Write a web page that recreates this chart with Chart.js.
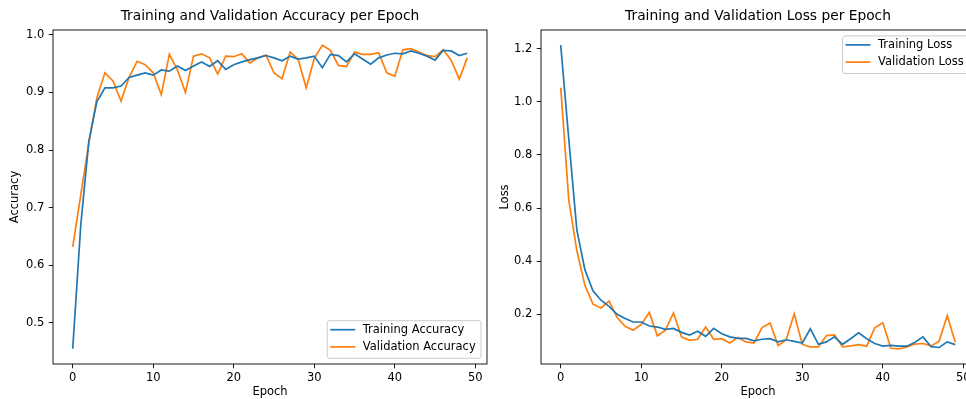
<!DOCTYPE html>
<html>
<head>
<meta charset="utf-8">
<title>Training and Validation per Epoch</title>
<script src="https://cdn.jsdelivr.net/npm/chart.js@4/dist/chart.umd.min.js"></script>
<style>
    html, body { margin: 0; padding: 0; background: #fff; width: 966px; height: 399px; overflow: hidden; }
    canvas { position: absolute; top: 0; }
    #acc-chart { left: 0; }
    #loss-chart { left: 490px; }
</style>
</head>
<body>
<canvas id="acc-chart" width="500" height="399" style="width:500px;height:399px"></canvas>
<canvas id="loss-chart" width="500" height="399" style="width:500px;height:399px"></canvas>
<script>
// Data
const epochs = [0, 1, 2, 3, 4, 5, 6, 7, 8, 9, 10, 11, 12, 13, 14, 15, 16, 17, 18, 19,
    20, 21, 22, 23, 24, 25, 26, 27, 28, 29, 30, 31, 32, 33, 34, 35, 36, 37, 38, 39,
    40, 41, 42, 43, 44, 45, 46, 47, 48, 49];

const trainAcc = [0.455, 0.670, 0.815, 0.884, 0.908, 0.908, 0.911, 0.926, 0.930, 0.934,
    0.930, 0.939, 0.937, 0.946, 0.938, 0.946, 0.953, 0.945, 0.955, 0.940,
    0.948, 0.953, 0.957, 0.960, 0.964, 0.960, 0.955, 0.963, 0.958, 0.960,
    0.963, 0.943, 0.966, 0.964, 0.953, 0.967, 0.958, 0.949, 0.960, 0.965,
    0.968, 0.967, 0.972, 0.968, 0.963, 0.956, 0.973, 0.972, 0.964, 0.968];

const valAcc = [0.632, 0.722, 0.812, 0.891, 0.934, 0.920, 0.885, 0.926, 0.954, 0.948,
    0.934, 0.896, 0.966, 0.939, 0.900, 0.963, 0.967, 0.960, 0.932, 0.963,
    0.962, 0.967, 0.951, 0.960, 0.965, 0.934, 0.924, 0.970, 0.957, 0.908,
    0.959, 0.982, 0.973, 0.947, 0.945, 0.970, 0.966, 0.966, 0.969, 0.934,
    0.928, 0.974, 0.976, 0.970, 0.964, 0.962, 0.974, 0.956, 0.923, 0.960];

const trainLoss = [1.213, 0.860, 0.518, 0.368, 0.288, 0.253, 0.230, 0.200, 0.184, 0.171,
    0.171, 0.156, 0.152, 0.143, 0.147, 0.132, 0.122, 0.136, 0.117, 0.147,
    0.127, 0.115, 0.109, 0.109, 0.100, 0.106, 0.108, 0.096, 0.104, 0.098,
    0.092, 0.145, 0.087, 0.096, 0.115, 0.087, 0.108, 0.130, 0.108, 0.090,
    0.080, 0.083, 0.080, 0.080, 0.095, 0.115, 0.078, 0.075, 0.096, 0.086];

const valLoss = [1.053, 0.630, 0.440, 0.309, 0.238, 0.224, 0.250, 0.188, 0.155, 0.140,
    0.162, 0.207, 0.119, 0.140, 0.205, 0.115, 0.102, 0.106, 0.152, 0.106,
    0.108, 0.092, 0.113, 0.096, 0.092, 0.150, 0.167, 0.082, 0.104, 0.202,
    0.087, 0.077, 0.077, 0.120, 0.122, 0.077, 0.081, 0.086, 0.080, 0.149,
    0.168, 0.072, 0.070, 0.077, 0.088, 0.090, 0.081, 0.099, 0.195, 0.095];

const xTicks = [0, 10, 20, 30, 40, 50];
const accTicks = [0.5, 0.6, 0.7, 0.8, 0.9, 1.0];
const lossTicks = [0.2, 0.4, 0.6, 0.8, 1.0, 1.2];

const BLUE = '#1f77b4';
const ORANGE = '#ff7f0e';
const FONT = '"DejaVu Sans", sans-serif';
const SMALL = 11.5;   // tick / label / legend text
const BIG = 13.8;     // subplot titles

// matplotlib-like autoscale: 5% margin on each side
function padRange(values) {
    const lo = Math.min(...values), hi = Math.max(...values);
    const m = (hi - lo) * 0.05;
    return [lo - m, hi + m];
}

/**
 * Frame, title and framed legend drawn the way matplotlib does it
 */
const mplLook = {
    id: 'mplLook',
    afterDraw(chart, args, opts) {
        const { ctx, chartArea: a } = chart;
        ctx.save();

        // spines
        ctx.strokeStyle = '#000';
        ctx.lineWidth = 0.9;
        ctx.strokeRect(a.left, a.top, a.right - a.left, a.bottom - a.top);

        // title
        ctx.fillStyle = '#000';
        ctx.font = BIG + 'px ' + FONT;
        ctx.textAlign = 'center';
        ctx.textBaseline = 'alphabetic';
        ctx.fillText(opts.title, (a.left + a.right) / 2, a.top - 10);

        // legend
        ctx.font = SMALL + 'px ' + FONT;
        const sets = chart.data.datasets;
        const maxW = Math.max(...sets.map(d => ctx.measureText(d.label).width));
        const w = 35.5 + maxW + 5.3, h = 37.6;
        const x = a.right - 6 - w;
        const y = opts.legendAt === 'lower right' ? a.bottom - 5.7 - h : a.top + 5.9;

        ctx.beginPath();
        ctx.roundRect(x, y, w, h, 2.5);
        ctx.fillStyle = 'rgba(255,255,255,0.8)';
        ctx.fill();
        ctx.strokeStyle = '#cccccc';
        ctx.lineWidth = 1;
        ctx.stroke();

        sets.forEach((d, i) => {
            const ry = y + 9 + i * 17.2;
            ctx.beginPath();
            ctx.moveTo(x + 3, ry);
            ctx.lineTo(x + 28, ry);
            ctx.strokeStyle = d.borderColor;
            ctx.lineWidth = 1.7;
            ctx.stroke();
            ctx.fillStyle = '#000';
            ctx.textAlign = 'left';
            ctx.textBaseline = 'middle';
            ctx.fillText(d.label, x + 35.5, ry);
        });

        ctx.restore();
    }
};

function lineSet(label, values, color) {
    return {
        label: label,
        data: values,
        borderColor: color,
        backgroundColor: color,
        borderWidth: 1.7,
        pointRadius: 0,
        tension: 0,
        fill: false
    };
}

function tickGrid() {
    return {
        display: true,
        drawOnChartArea: false,
        drawTicks: true,
        tickLength: 4.3,
        color: '#000',
        lineWidth: 0.9
    };
}

function createChart(id, cfg) {
    const [yMin, yMax] = padRange(cfg.series.flatMap(s => s.values));
    return new Chart(document.getElementById(id), {
        type: 'line',
        data: {
            labels: epochs,
            datasets: cfg.series.map(s => lineSet(s.label, s.values, s.color))
        },
        options: {
            responsive: false,
            animation: false,
            events: [],
            layout: { padding: { left: 0, top: 30, right: cfg.rightPad, bottom: 0 } },
            plugins: {
                legend: { display: false },
                tooltip: { enabled: false },
                mplLook: { title: cfg.title, legendAt: cfg.legendAt }
            },
            scales: {
                x: {
                    type: 'linear',
                    min: -2.45,
                    max: 51.45,
                    afterBuildTicks: s => { s.ticks = xTicks.map(v => ({ value: v })); },
                    afterFit: s => { s.height = 35; },
                    grid: tickGrid(),
                    border: { display: false },
                    ticks: {
                        color: '#000',
                        font: { family: FONT, size: SMALL },
                        padding: 2.5,
                        maxRotation: 0,
                        autoSkip: false
                    },
                    title: {
                        display: true,
                        text: 'Epoch',
                        color: '#000',
                        font: { family: FONT, size: SMALL },
                        padding: { top: 0, bottom: 0 }
                    }
                },
                y: {
                    type: 'linear',
                    min: yMin,
                    max: yMax,
                    afterBuildTicks: s => { s.ticks = cfg.yTicks.map(v => ({ value: v })); },
                    afterFit: s => { s.width = cfg.yWidth; },
                    grid: tickGrid(),
                    border: { display: false },
                    ticks: {
                        color: '#000',
                        font: { family: FONT, size: SMALL },
                        padding: 4.4,
                        autoSkip: false,
                        callback: v => v.toFixed(1)
                    },
                    title: {
                        display: true,
                        text: cfg.yLabel,
                        color: '#000',
                        font: { family: FONT, size: SMALL },
                        padding: { top: 8, bottom: 0 }
                    }
                }
            }
        },
        plugins: [mplLook]
    });
}

createChart('acc-chart', {
    title: 'Training and Validation Accuracy per Epoch',
    yLabel: 'Accuracy',
    yTicks: accTicks,
    yWidth: 53,
    rightPad: 13,
    legendAt: 'lower right',
    series: [
        { label: 'Training Accuracy', values: trainAcc, color: BLUE },
        { label: 'Validation Accuracy', values: valAcc, color: ORANGE }
    ]
});

createChart('loss-chart', {
    title: 'Training and Validation Loss per Epoch',
    yLabel: 'Loss',
    yTicks: lossTicks,
    yWidth: 51,
    rightPad: 15,
    legendAt: 'upper right',
    series: [
        { label: 'Training Loss', values: trainLoss, color: BLUE },
        { label: 'Validation Loss', values: valLoss, color: ORANGE }
    ]
});
</script>
</body>
</html>
